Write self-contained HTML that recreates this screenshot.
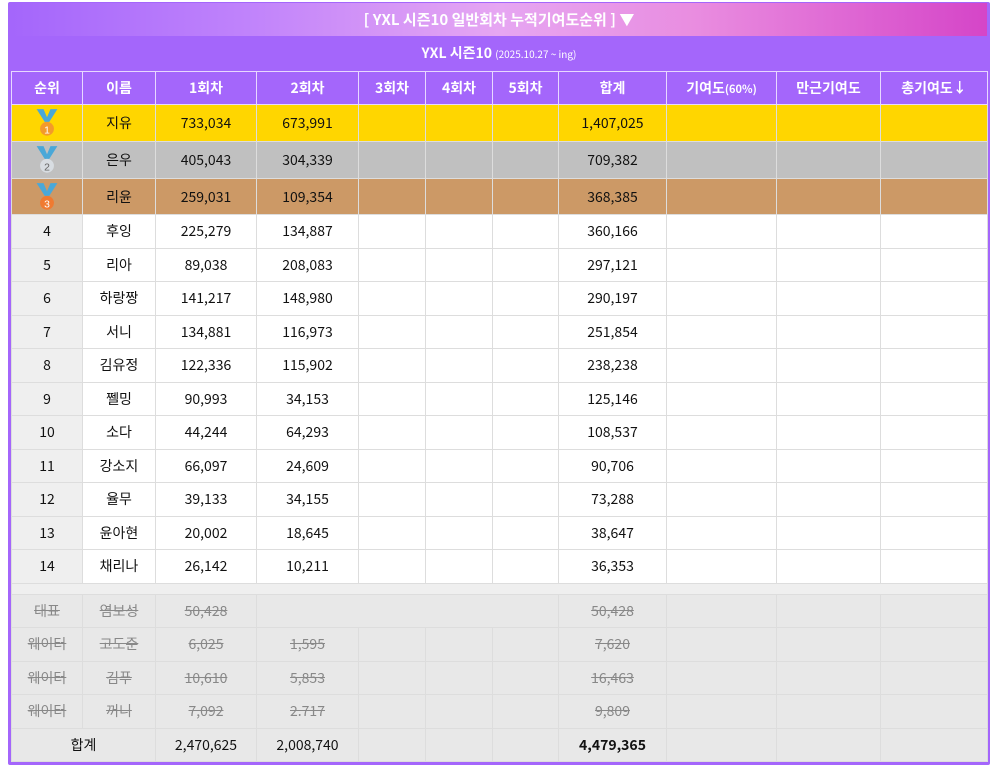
<!DOCTYPE html><html><head><meta charset="utf-8"><style>
*{margin:0;padding:0;box-sizing:border-box}
body{width:998px;height:770px;background:#fff;font-family:"Noto Sans CJK KR","Liberation Sans",sans-serif;position:relative;overflow:hidden}
#wrap{position:absolute;left:8px;top:2px;width:982px;height:763px;background:#a466fb;border-radius:2px}
#title{position:absolute;left:3px;top:1px;width:976px;height:33px;background:linear-gradient(90deg,#a466fb 0%,#c184fb 25%,#e6a6f2 50%,#e98de0 70%,#d545c8 100%);color:#fff;font-weight:bold;font-size:15px;text-align:center;line-height:33px}
#sub{position:absolute;left:3px;top:34px;width:976px;height:35px;color:#fff;font-weight:bold;font-size:14px;text-align:center;line-height:35px}
#sub small{font-size:10px;font-weight:normal}
table{position:absolute;left:3px;top:69px;border-collapse:collapse;table-layout:fixed;width:976px}
td{border:1px solid #ddd;text-align:center;font-size:14px;color:#111;padding:0;line-height:1}
tr.h td{background:#a466fb;color:#fff;font-weight:bold;border-color:#e8d8ff;height:33px}
tr.g td{background:#ffd600;height:37px}
tr.s td{background:#c0c0c0;height:37px}
tr.b td{background:#cc9966;height:36px}
tr.n td{background:#fff;height:33.5px}
tr.n td:first-child{background:#efefef}
tr.sp td{background:#efefef;height:11px}
tr.x td{background:#e8e8e8;height:33.5px;color:#888;text-decoration:line-through}
tr.t td{background:#e8e8e8;height:33px}
.m{display:inline-block;vertical-align:middle}
</style></head><body>
<div id="wrap">
<div id="title">[ YXL 시즌10 일반회차 누적기여도순위 ] ▼</div>
<div id="sub">YXL 시즌10 <small>(2025.10.27 ~ ing)</small></div>
<table>
<colgroup><col style="width:71px"><col style="width:73px"><col style="width:101px"><col style="width:102px"><col style="width:67px"><col style="width:67px"><col style="width:66px"><col style="width:108px"><col style="width:110px"><col style="width:104px"><col style="width:107px"></colgroup>
<tr class="h"><td>순위</td><td>이름</td><td>1회차</td><td>2회차</td><td>3회차</td><td>4회차</td><td>5회차</td><td>합계</td><td>기여도<span style="font-size:11px">(60%)</span></td><td>만근기여도</td><td>총기여도↓</td></tr>
<tr class="g"><td><svg class="m" width="26" height="30" viewBox="0 0 22 26"><path d="M2 1h6l3 7 3-7h6l-7 11h-4z" fill="#4aa8d8"/><circle cx="11" cy="18" r="6" fill="#f39a2a"/><text x="11" y="22" font-size="9" fill="#fff" text-anchor="middle" font-family="Liberation Sans">1</text></svg></td><td>지유</td><td>733,034</td><td>673,991</td><td></td><td></td><td></td><td>1,407,025</td><td></td><td></td><td></td></tr>
<tr class="s"><td><svg class="m" width="26" height="30" viewBox="0 0 22 26"><path d="M2 1h6l3 7 3-7h6l-7 11h-4z" fill="#4aa8d8"/><circle cx="11" cy="18" r="6" fill="#d8dde2"/><text x="11" y="22" font-size="9" fill="#666" text-anchor="middle" font-family="Liberation Sans">2</text></svg></td><td>은우</td><td>405,043</td><td>304,339</td><td></td><td></td><td></td><td>709,382</td><td></td><td></td><td></td></tr>
<tr class="b"><td><svg class="m" width="26" height="30" viewBox="0 0 22 26"><path d="M2 1h6l3 7 3-7h6l-7 11h-4z" fill="#4aa8d8"/><circle cx="11" cy="18" r="6" fill="#f07a30"/><text x="11" y="22" font-size="9" fill="#fff" text-anchor="middle" font-family="Liberation Sans">3</text></svg></td><td>리윤</td><td>259,031</td><td>109,354</td><td></td><td></td><td></td><td>368,385</td><td></td><td></td><td></td></tr>
<tr class="n"><td>4</td><td>후잉</td><td>225,279</td><td>134,887</td><td></td><td></td><td></td><td>360,166</td><td></td><td></td><td></td></tr>
<tr class="n"><td>5</td><td>리아</td><td>89,038</td><td>208,083</td><td></td><td></td><td></td><td>297,121</td><td></td><td></td><td></td></tr>
<tr class="n"><td>6</td><td>하랑짱</td><td>141,217</td><td>148,980</td><td></td><td></td><td></td><td>290,197</td><td></td><td></td><td></td></tr>
<tr class="n"><td>7</td><td>서니</td><td>134,881</td><td>116,973</td><td></td><td></td><td></td><td>251,854</td><td></td><td></td><td></td></tr>
<tr class="n"><td>8</td><td>김유정</td><td>122,336</td><td>115,902</td><td></td><td></td><td></td><td>238,238</td><td></td><td></td><td></td></tr>
<tr class="n"><td>9</td><td>쩰밍</td><td>90,993</td><td>34,153</td><td></td><td></td><td></td><td>125,146</td><td></td><td></td><td></td></tr>
<tr class="n"><td>10</td><td>소다</td><td>44,244</td><td>64,293</td><td></td><td></td><td></td><td>108,537</td><td></td><td></td><td></td></tr>
<tr class="n"><td>11</td><td>강소지</td><td>66,097</td><td>24,609</td><td></td><td></td><td></td><td>90,706</td><td></td><td></td><td></td></tr>
<tr class="n"><td>12</td><td>율무</td><td>39,133</td><td>34,155</td><td></td><td></td><td></td><td>73,288</td><td></td><td></td><td></td></tr>
<tr class="n"><td>13</td><td>윤아현</td><td>20,002</td><td>18,645</td><td></td><td></td><td></td><td>38,647</td><td></td><td></td><td></td></tr>
<tr class="n"><td>14</td><td>채리나</td><td>26,142</td><td>10,211</td><td></td><td></td><td></td><td>36,353</td><td></td><td></td><td></td></tr>
<tr class="sp"><td colspan="11"></td></tr>
<tr class="x"><td>대표</td><td>염보성</td><td>50,428</td><td colspan="4"></td><td>50,428</td><td></td><td></td><td></td></tr>
<tr class="x"><td>웨이터</td><td>고도준</td><td>6,025</td><td>1,595</td><td></td><td></td><td></td><td>7,620</td><td></td><td></td><td></td></tr>
<tr class="x"><td>웨이터</td><td>김푸</td><td>10,610</td><td>5,853</td><td></td><td></td><td></td><td>16,463</td><td></td><td></td><td></td></tr>
<tr class="x"><td>웨이터</td><td>꺼니</td><td>7,092</td><td>2.717</td><td></td><td></td><td></td><td>9,809</td><td></td><td></td><td></td></tr>
<tr class="t"><td colspan="2">합계</td><td>2,470,625</td><td>2,008,740</td><td></td><td></td><td></td><td style="font-weight:bold">4,479,365</td><td></td><td></td><td></td></tr>
</table>
</div>
</body></html>
